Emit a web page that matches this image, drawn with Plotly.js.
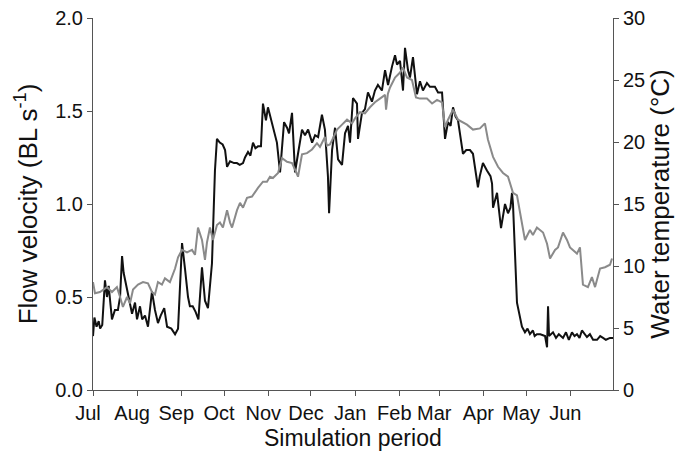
<!DOCTYPE html>
<html>
<head>
<meta charset="utf-8">
<script src="https://cdn.plot.ly/plotly-3.0.1.min.js"></script>
<style>html,body{margin:0;padding:0;background:#fff}#chart{width:691px;height:461px}</style>
</head>
<body>
<div id="chart"></div>
<script>
// Days counted from 1 July
const monthTickDays = [0, 31, 62, 92, 123, 153, 184, 215, 243, 274, 304, 335];
const monthLabels = ["Jul", "Aug", "Sep", "Oct", "Nov", "Dec", "Jan", "Feb", "Mar", "Apr", "May", "Jun"];

// Flow velocity (BL s^-1), left axis
const velDays = [0,1,2.5,4,5,6.5,8.4,9.8,11,13.3,15.4,17.5,19,20.4,21.5,23.2,25.3,27.4,29.5,30.9,33,34.5,36.5,38.6,41.4,43.5,45.6,47.5,50,52,55,57.6,59.7,61.5,62.5,64.6,66.7,68,70,72,74,76.5,78.6,80.7,83.5,85.6,87,89,91,92.7,94.1,96.2,99,101,103,105.3,106.7,108.8,110.5,112.3,114,115.8,117.9,119.3,121.4,122.8,125.6,127.7,129.1,131.3,134.1,136.2,137.6,139.7,141.8,143.9,146.7,148.8,151,153.8,155.9,158,160.7,162.8,164.9,165.7,167.8,169.9,172,174.8,176.9,179,180.4,182.5,185.3,186,188.8,190.9,193,195.8,197.9,200,202.8,205,207.1,209.9,212,213.4,215.5,217.6,219,221.1,222.5,224.6,226,227.4,229.5,231.6,234.4,236.5,240,242.2,245,247.1,249.2,251,252.7,254.5,256.2,259.7,262,264.6,266.7,270.2,271.5,273.7,276.5,279,280.1,280.8,283.6,286.4,289.2,291.3,293,294.1,294.8,297.6,301.1,303.2,305,306.7,308.8,310,311.6,314,317.3,318.7,319.4,320.1,322.9,325,327,329.9,332,334,336.2,338,339.7,341.5,343.2,345,346.7,348.8,351,353.8,356,358,360,362.9,365];
const velocity = [0.29,0.39,0.34,0.37,0.33,0.35,0.59,0.50,0.56,0.38,0.43,0.43,0.50,0.72,0.63,0.57,0.48,0.41,0.47,0.38,0.45,0.38,0.40,0.34,0.53,0.43,0.36,0.40,0.44,0.34,0.33,0.30,0.33,0.60,0.79,0.65,0.50,0.45,0.45,0.42,0.38,0.66,0.48,0.44,0.68,1.18,1.35,1.33,1.32,1.29,1.20,1.23,1.22,1.22,1.21,1.22,1.25,1.28,1.26,1.33,1.30,1.31,1.31,1.54,1.45,1.52,1.43,1.37,1.33,1.17,1.44,1.41,1.38,1.49,1.17,1.27,1.40,1.37,1.40,1.33,1.37,1.36,1.48,1.40,1.15,0.95,1.29,1.41,1.24,1.21,1.38,1.42,1.33,1.57,1.54,1.35,1.49,1.51,1.60,1.55,1.61,1.64,1.61,1.72,1.64,1.74,1.80,1.75,1.77,1.61,1.84,1.72,1.68,1.79,1.68,1.59,1.66,1.61,1.65,1.63,1.63,1.60,1.60,1.35,1.44,1.42,1.52,1.47,1.45,1.27,1.29,1.29,1.27,1.09,1.15,1.22,1.18,1.15,1.11,0.98,1.06,0.87,1.00,0.95,0.98,1.06,1.00,0.47,0.34,0.31,0.33,0.30,0.32,0.29,0.30,0.30,0.29,0.23,0.45,0.29,0.31,0.28,0.30,0.28,0.31,0.27,0.31,0.29,0.30,0.28,0.32,0.30,0.285,0.30,0.27,0.27,0.29,0.28,0.27,0.28,0.28];

// Water temperature (°C), right axis
const tempDays = [0,1.4,4.9,9.8,13.3,16.8,19,21,23.9,26,28.1,31.6,35.1,38.6,41.4,43.5,45.6,48.4,50.5,54,57.6,59.7,62.5,66,69.5,71.6,73.7,76.5,78.6,80,82.1,84.2,87,89.1,91.2,94.1,96.2,97.6,101.1,103.2,105.3,108.1,111.6,113.7,115.8,119.3,122.1,124.2,126.3,129.9,132.7,136.2,139.7,142.5,143.9,146.7,150.2,153.7,157.2,159.3,162.8,164.2,166.3,168.5,171.3,174.8,178.3,181.8,183.9,187.4,190.9,194.4,197.9,201.4,205,205.7,207,208.5,212,215.5,217.6,220.4,223.9,226.7,229.5,234.4,238,241.5,245,247.1,249.2,252.7,256.2,262.5,266.7,271.6,275.1,277.2,280.8,284.3,287.8,291.3,294.8,297.6,301.1,303.2,306.7,308.8,311.6,315.9,318.7,320.8,324.3,326.4,329.9,332.7,334.8,339.7,341.8,343.9,347.4,350.2,352.4,355.9,359.4,362.9,364.3];
const temperature = [8.7,7.8,7.9,8.3,7.9,8.3,7.5,6.7,7.5,7.0,8.1,8.5,8.7,8.6,7.9,7.7,8.7,8.5,9.0,8.7,9.8,10.7,11.3,11.1,11.3,10.9,13.1,12.1,10.5,11.9,13.1,12.1,13.3,13.5,13.1,14.5,13.5,13.1,14.5,15.1,14.7,15.5,15.6,16.0,16.3,16.8,16.8,17.2,17.1,17.5,18.7,18.4,18.3,17.6,17.2,19.0,19.1,19.4,19.9,19.6,20.4,19.7,19.8,20.3,21.0,21.4,21.8,21.5,21.9,22.4,22.3,22.8,23.2,23.5,23.8,22.6,23.9,24.4,25.2,25.6,26.0,25.2,25.0,23.6,23.5,23.5,23.1,23.4,23.2,21.2,21.8,22.6,21.8,21.4,21.0,21.1,21.5,20.2,18.8,18.0,17.5,17.2,15.9,15.7,13.5,12.1,12.9,12.5,13.1,12.7,11.8,10.6,11.3,11.5,12.7,12.1,11.5,11.0,11.5,8.5,8.3,9.1,8.3,9.8,9.9,10.1,10.6];

const xTitle = "Simulation period";
const axisColor = "#555555";
const fontFamily = "Liberation Sans, Arial, sans-serif";

const traces = [
  {
    x: tempDays, y: temperature, yaxis: "y2", type: "scatter", mode: "lines",
    line: {color: "#8a8a8a", width: 2}, name: "Water temperature", hoverinfo: "x+y"
  },
  {
    x: velDays, y: velocity, type: "scatter", mode: "lines",
    line: {color: "#111111", width: 2}, name: "Flow velocity", hoverinfo: "x+y"
  }
];

const layout = {
  width: 691, height: 461,
  margin: {l: 93, r: 78, t: 18, b: 71},
  paper_bgcolor: "#ffffff", plot_bgcolor: "#ffffff",
  showlegend: false,
  font: {family: fontFamily, color: "#111111", size: 20},
  xaxis: {
    range: [0, 365], tickmode: "array", tickvals: monthTickDays, ticktext: monthLabels,
    showgrid: false, zeroline: false, showline: true, linecolor: axisColor, linewidth: 1,
    ticks: "outside", ticklen: 5, tickcolor: axisColor, ticklabelshift: -5,
    tickfont: {size: 20, family: fontFamily, color: "#111111"}
  },
  yaxis: {
    range: [0, 2.0], tickvals: [0, 0.5, 1.0, 1.5, 2.0], tickformat: ".1f",
    showgrid: false, zeroline: false, showline: true, linecolor: axisColor, linewidth: 1,
    ticks: "outside", ticklen: 5, tickcolor: axisColor,
    tickfont: {size: 20, family: fontFamily, color: "#111111"},
    title: {text: "Flow velocity (BL s<sup>-1</sup>)", font: {size: 26, family: fontFamily, color: "#111111"}, standoff: 10}
  },
  yaxis2: {
    range: [0, 30], tickvals: [0, 5, 10, 15, 20, 25, 30], overlaying: "y", side: "right",
    showgrid: false, zeroline: false, showline: true, linecolor: axisColor, linewidth: 1,
    ticks: "outside", ticklen: 5, tickcolor: axisColor,
    tickfont: {size: 20, family: fontFamily, color: "#111111"},
    title: {text: "Water temperature (°C)", font: {size: 26, family: fontFamily, color: "#111111"}, standoff: 4}
  },
  annotations: [{
    text: xTitle, xref: "paper", yref: "paper", x: 0.5, y: -0.128,
    xanchor: "center", yanchor: "middle", showarrow: false,
    font: {size: 23, family: fontFamily, color: "#111111"}
  }]
};

Plotly.newPlot("chart", traces, layout, {displayModeBar: false, staticPlot: true});
</script>
</body>
</html>
